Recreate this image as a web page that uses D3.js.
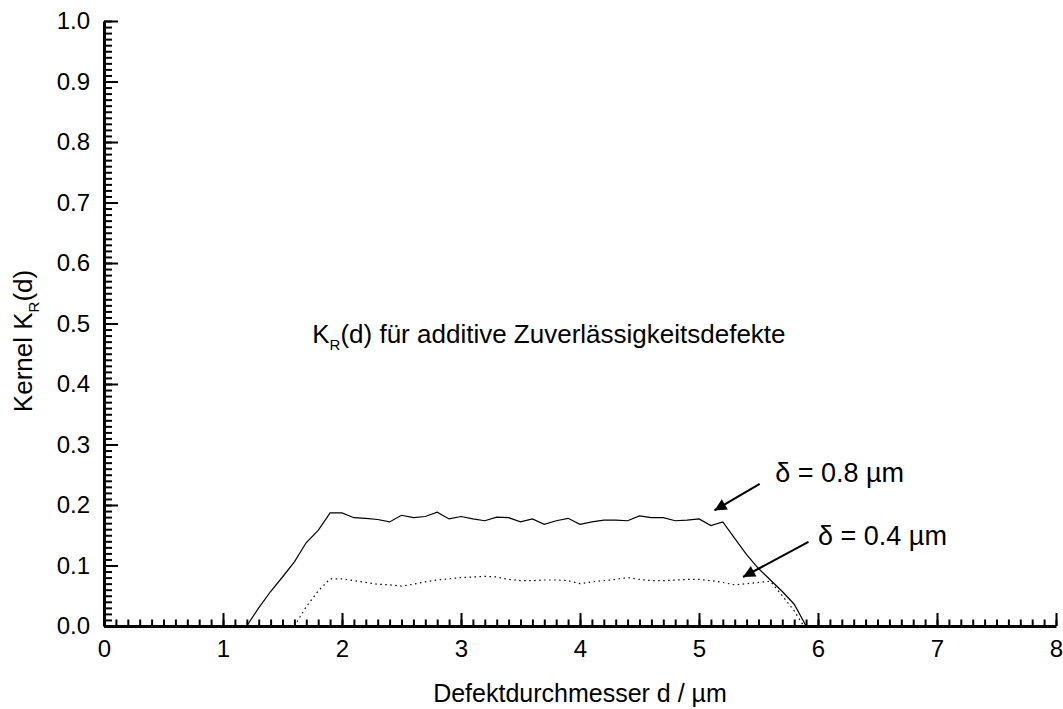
<!DOCTYPE html>
<html>
<head>
<meta charset="utf-8">
<script src="https://cdn.jsdelivr.net/npm/d3@7"></script>
<style>
  body { margin: 0; background: #fff; }
  svg { display: block; font-family: Arial, "Liberation Sans", sans-serif; }
  .axis path, .axis line { stroke: #000; }
  .axis text { fill: #000; font-size: 24px; font-family: Arial, "Liberation Sans", sans-serif; }
</style>
</head>
<body>
<svg width="1063" height="709"></svg>
<script>
var width = 1063,
    height = 709;

// d / um and K_R(d) for delta = 0.8 um (solid line)
const d_08 = [1.2, 1.3, 1.4, 1.5, 1.6, 1.7, 1.8, 1.9, 2.0, 2.1, 2.2, 2.3, 2.4, 2.5, 2.6, 2.7, 2.8, 2.9,
    3.0, 3.1, 3.2, 3.3, 3.4, 3.5, 3.6, 3.7, 3.8, 3.9, 4.0, 4.1, 4.2, 4.3, 4.4, 4.5, 4.6, 4.7, 4.8, 4.9,
    5.0, 5.1, 5.2, 5.3, 5.4, 5.5, 5.6, 5.7, 5.8, 5.9];
const k_08 = [0.0, 0.030, 0.057, 0.081, 0.106, 0.138, 0.158, 0.187, 0.187, 0.179, 0.178, 0.176, 0.172, 0.183, 0.179, 0.181, 0.188, 0.177,
    0.181, 0.177, 0.174, 0.180, 0.179, 0.172, 0.177, 0.168, 0.174, 0.178, 0.168, 0.172, 0.175, 0.175, 0.174, 0.182, 0.179, 0.179, 0.174, 0.175,
    0.177, 0.166, 0.172, 0.145, 0.118, 0.095, 0.076, 0.057, 0.036, 0.0];

// d / um and K_R(d) for delta = 0.4 um (dotted line)
const d_04 = [1.6, 1.7, 1.8, 1.9, 2.0, 2.1, 2.2, 2.3, 2.4, 2.5, 2.6, 2.7, 2.8, 2.9,
    3.0, 3.1, 3.2, 3.3, 3.4, 3.5, 3.6, 3.7, 3.8, 3.9, 4.0, 4.1, 4.2, 4.3, 4.4, 4.5, 4.6, 4.7, 4.8, 4.9,
    5.0, 5.1, 5.2, 5.3, 5.4, 5.5, 5.6, 5.7, 5.8, 5.88];
const k_04 = [0.0, 0.032, 0.058, 0.078, 0.078, 0.075, 0.072, 0.069, 0.068, 0.066, 0.069, 0.073, 0.076, 0.078,
    0.080, 0.081, 0.082, 0.081, 0.077, 0.075, 0.075, 0.076, 0.076, 0.075, 0.070, 0.073, 0.075, 0.077, 0.080, 0.077, 0.075, 0.075, 0.076, 0.077,
    0.077, 0.075, 0.072, 0.068, 0.070, 0.072, 0.074, 0.050, 0.025, 0.0];

const x_ticks = [0, 1, 2, 3, 4, 5, 6, 7, 8];
const y_ticks = [0.0, 0.1, 0.2, 0.3, 0.4, 0.5, 0.6, 0.7, 0.8, 0.9, 1.0];

// annotations: [x, y] in data units
const arrow_08 = [[5.51, 0.235], [5.13, 0.191]];
const arrow_04 = [[5.92, 0.139], [5.37, 0.081]];
const label_08 = [5.64, 0.238];
const label_04 = [6.0, 0.134];
const title_pos = [1.75, 0.468];

const margin = { left: 104, right: 7, top: 21, bottom: 83 };

var svg = d3.select("svg");

var x = d3.scaleLinear().domain([0, 8]).range([margin.left, width - margin.right]);
var y = d3.scaleLinear().domain([0, 1]).range([height - margin.bottom, margin.top]);

// Minor ticks (no labels)
svg.append("g")
    .attr("class", "axis")
    .attr("transform", "translate(0," + y(0) + ")")
    .call(d3.axisBottom(x).tickValues(d3.range(0, 81).map(function (i) { return i / 10; }))
        .tickSize(-6.5).tickSizeOuter(0).tickFormat(""))
    .call(function (g) { g.select(".domain").remove(); })
    .selectAll("line").attr("stroke-width", 2);

svg.append("g")
    .attr("class", "axis")
    .attr("transform", "translate(" + x(0) + ",0)")
    .call(d3.axisLeft(y).tickValues(d3.range(0, 101).map(function (i) { return i / 100; }))
        .tickSize(-8).tickSizeOuter(0).tickFormat(""))
    .call(function (g) { g.select(".domain").remove(); })
    .selectAll("line").attr("stroke-width", 2);

// Major ticks + labels
var xAxis = svg.append("g")
    .attr("class", "axis")
    .attr("transform", "translate(0," + y(0) + ")")
    .call(d3.axisBottom(x).tickValues(x_ticks).tickSize(-13).tickSizeOuter(0)
        .tickPadding(14).tickFormat(d3.format("d")));
xAxis.selectAll("line").attr("stroke-width", 2);
xAxis.select(".domain").attr("stroke-width", 3);

var yAxis = svg.append("g")
    .attr("class", "axis")
    .attr("transform", "translate(" + x(0) + ",0)")
    .call(d3.axisLeft(y).tickValues(y_ticks).tickSize(-14).tickSizeOuter(0)
        .tickPadding(14).tickFormat(d3.format(".1f")));
yAxis.selectAll("line").attr("stroke-width", 2);
yAxis.select(".domain").attr("stroke-width", 3);

// Curves
var line = d3.line()
    .x(function (d) { return x(d[0]); })
    .y(function (d) { return y(d[1]); });

svg.append("path")
    .datum(d3.zip(d_08, k_08))
    .attr("d", line)
    .attr("fill", "none")
    .attr("stroke", "#000")
    .attr("stroke-width", 1.2);

svg.append("path")
    .datum(d3.zip(d_04, k_04))
    .attr("d", line)
    .attr("fill", "none")
    .attr("stroke", "#000")
    .attr("stroke-width", 1.2)
    .attr("stroke-dasharray", "1.5,3.5");

// Arrows
svg.append("defs").append("marker")
    .attr("id", "head")
    .attr("viewBox", "0 0 10 10")
    .attr("refX", 10).attr("refY", 5)
    .attr("markerUnits", "userSpaceOnUse")
    .attr("markerWidth", 16).attr("markerHeight", 12)
    .attr("orient", "auto")
    .append("path")
    .attr("d", "M0,0 L10,5 L0,10 Z")
    .attr("fill", "#000");

[arrow_08, arrow_04].forEach(function (a) {
    svg.append("line")
        .attr("x1", x(a[0][0])).attr("y1", y(a[0][1]))
        .attr("x2", x(a[1][0])).attr("y2", y(a[1][1]))
        .attr("stroke", "#000")
        .attr("stroke-width", 2)
        .attr("marker-end", "url(#head)");
});

svg.append("text")
    .attr("x", x(label_08[0])).attr("y", y(label_08[1]))
    .attr("font-size", 27)
    .text("δ = 0.8 µm");

svg.append("text")
    .attr("x", x(label_04[0])).attr("y", y(label_04[1]))
    .attr("font-size", 27)
    .text("δ = 0.4 µm");

// Title inside plot
var t = svg.append("text")
    .attr("x", x(title_pos[0])).attr("y", y(title_pos[1]))
    .attr("font-size", 26);
t.append("tspan").text("K");
t.append("tspan").attr("font-size", 15).attr("dy", 7).text("R");
t.append("tspan").attr("dy", -7).text("(d) für additive Zuverlässigkeitsdefekte");

// Axis titles
svg.append("text")
    .attr("x", (x(0) + x(8)) / 2)
    .attr("y", 702)
    .attr("text-anchor", "middle")
    .attr("font-size", 25)
    .text("Defektdurchmesser d / µm");

var yl = svg.append("text")
    .attr("transform", "translate(32," + 341 + ") rotate(-90)")
    .attr("text-anchor", "middle")
    .attr("font-size", 26);
yl.append("tspan").text("Kernel K");
yl.append("tspan").attr("font-size", 15).attr("dy", 7).text("R");
yl.append("tspan").attr("dy", -7).text("(d)");
</script>
</body>
</html>
